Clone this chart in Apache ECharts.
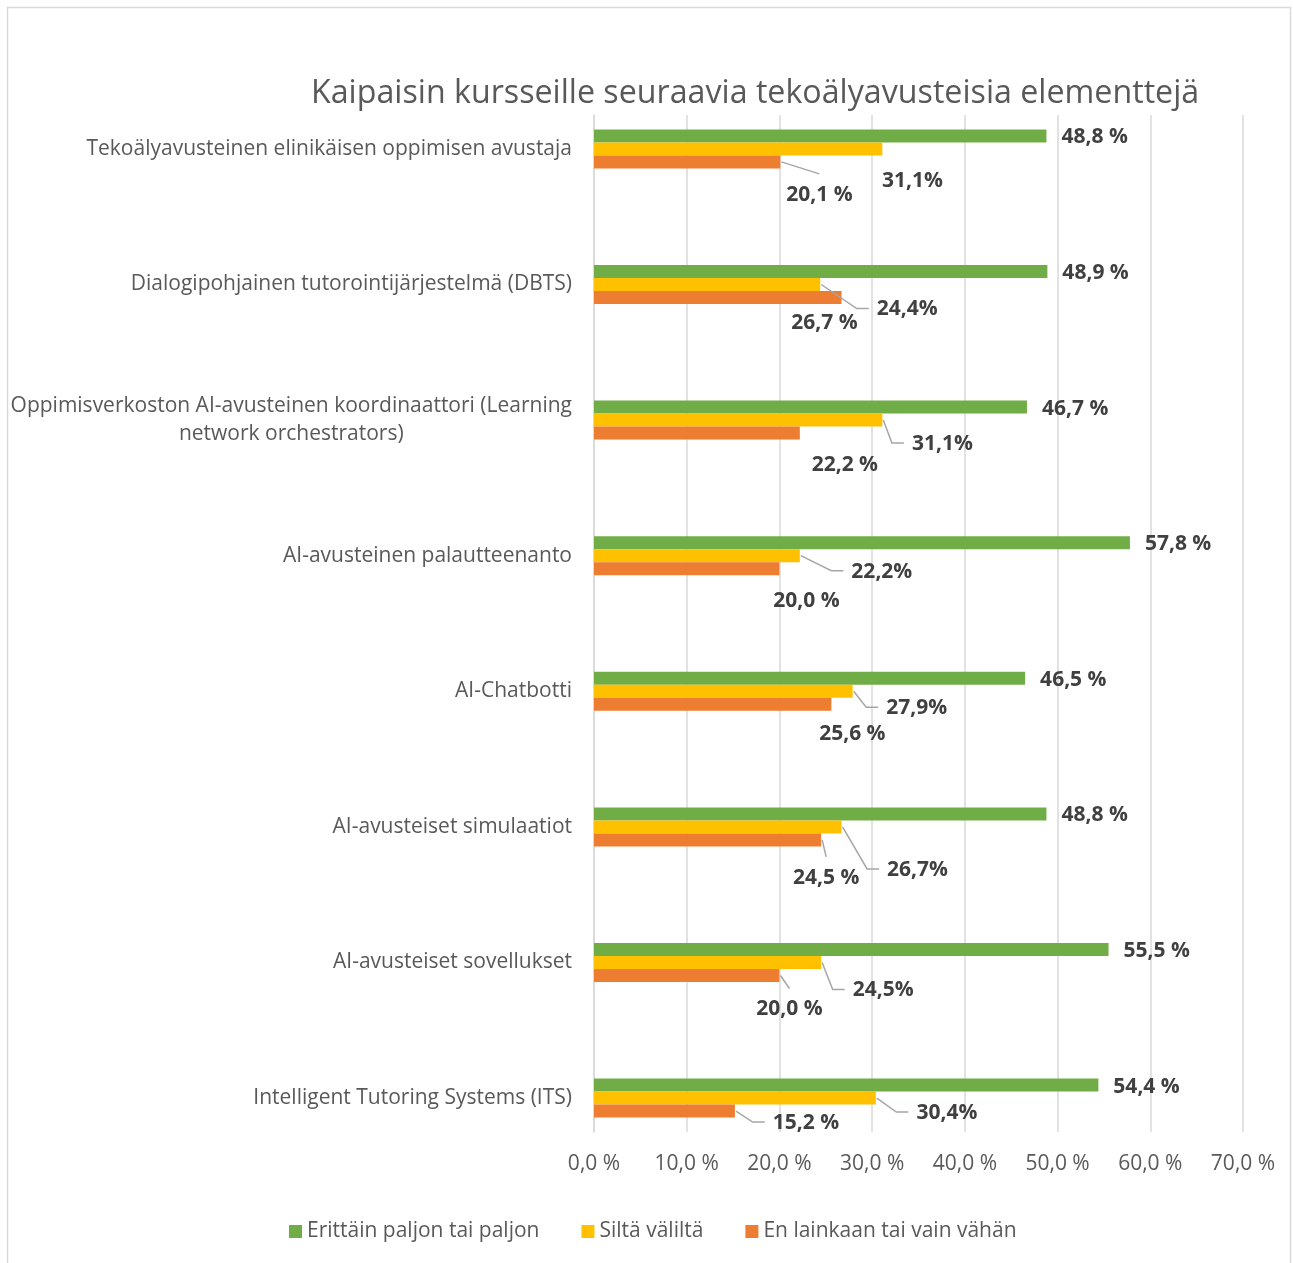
<!DOCTYPE html>
<html>
<head>
<meta charset="utf-8">
<script src="https://cdn.jsdelivr.net/npm/echarts@6/dist/echarts.min.js"></script>
<style>
  html, body { margin: 0; padding: 0; background: #fff; }
  #chart { width: 1293px; height: 1263px; }
</style>
</head>
<body>
<div id="chart"></div>
<script>
// Survey: which AI-assisted elements respondents would like on courses
const chartTitle = 'Kaipaisin kursseille seuraavia tekoälyavusteisia elementtejä';

const categories = [
  'Tekoälyavusteinen elinikäisen oppimisen avustaja',
  'Dialogipohjainen tutorointijärjestelmä (DBTS)',
  'Oppimisverkoston AI-avusteinen koordinaattori (Learning\nnetwork orchestrators)',
  'AI-avusteinen palautteenanto',
  'AI-Chatbotti',
  'AI-avusteiset simulaatiot',
  'AI-avusteiset sovellukset',
  'Intelligent Tutoring Systems (ITS)'
];

const seriesNames = ['Erittäin paljon tai paljon', 'Siltä väliltä', 'En lainkaan tai vain vähän'];

const paljon  = [48.8, 48.9, 46.7, 57.8, 46.5, 48.8, 55.5, 54.4];
const valilta = [31.1, 24.4, 31.1, 22.2, 27.9, 26.7, 24.5, 30.4];
const vahan   = [20.1, 26.7, 22.2, 20.0, 25.6, 24.5, 20.0, 15.2];

// Label placement relative to the end of its bar: [dx, dy] of the label centre
const valiltaLabelShift = [[30, 32], [87, 25], [60, 24], [82, 16], [64, 17], [76, 43], [62, 28], [71, 15]];
const vahanLabelShift   = [[39, 33], [-17, 26], [45, 32], [27, 32], [21, 30], [5, 38], [10, 34], [71, 12]];
// Leader line to the label: 'left' side, 'top' side, or none
const valiltaLeader = [null, 'left', 'left', 'left', 'left', 'left', 'left', 'left'];
const vahanLeader   = ['top', null, null, null, null, 'top', 'top', 'left'];

const colors = ['#70AD47', '#FFC000', '#ED7D31'];
const FONT = 'Open Sans';
const BAR_W = 13;
const LABEL_SIZE = 21;

// Each category row is followed by an empty spacer row
const rows = [];
categories.forEach((c, i) => {
  if (i > 0) rows.push(' '.repeat(i));
  rows.push(c);
});
const rowOf = k => k * 2;

function spread(values) {
  const out = [];
  values.forEach((v, i) => {
    if (i > 0) out.push('-');
    out.push(v);
  });
  return out;
}

const fmt = (v, sep) => v.toFixed(1).replace('.', ',') + sep + '%';

// Text width of a data label, for attaching leader lines to its edge
const measureCtx = document.createElement('canvas').getContext('2d');
function labelWidth(text) {
  measureCtx.font = 'bold ' + LABEL_SIZE + 'px "' + FONT + '"';
  return measureCtx.measureText(text).width;
}

function shiftedLayout(shifts) {
  return function (p) {
    const s = shifts[Math.round(p.dataIndex / 2)];
    return {
      x: p.rect.x + p.rect.width + s[0],
      y: p.rect.y + p.rect.height / 2 + s[1],
      align: 'center',
      verticalAlign: 'middle'
    };
  };
}

const labelText = {
  fontFamily: FONT,
  fontSize: LABEL_SIZE,
  fontWeight: 'bold',
  color: '#404040'
};

// Leader line records: value, row, bar slot (0 = middle bar, 1 = lower bar), category index
const leaderRows = [];
valilta.forEach((v, k) => { if (valiltaLeader[k]) leaderRows.push([v, rowOf(k), 0, k]); });
vahan.forEach((v, k) => { if (vahanLeader[k]) leaderRows.push([v, rowOf(k), 1, k]); });

function renderLeader(params, api) {
  const v = api.value(0);
  const row = api.value(1);
  const slot = api.value(2);
  const k = api.value(3);
  const values = slot === 0 ? valilta : vahan;
  const shifts = slot === 0 ? valiltaLabelShift : vahanLabelShift;
  const mode = slot === 0 ? valiltaLeader[k] : vahanLeader[k];
  const sep = slot === 0 ? '' : ' ';
  const c = api.coord([v, row]);
  const start = [c[0] + 1, c[1] + slot * BAR_W];
  const cx = start[0] - 1 + shifts[k][0];
  const cy = start[1] + shifts[k][1] - 1;
  let points;
  if (mode === 'left') {
    const left = cx - labelWidth(fmt(values[k], sep)) / 2;
    points = [start, [left - 20, cy], [left - 8, cy]];
  } else {
    points = [start, [cx, cy - 20]];
  }
  return {
    type: 'polyline',
    silent: true,
    shape: { points },
    style: { fill: null, stroke: '#A6A6A6', lineWidth: 1.5 }
  };
}

const chart = echarts.init(document.getElementById('chart'), null, { renderer: 'canvas' });

chart.setOption({
  animation: false,
  backgroundColor: '#ffffff',
  color: colors,
  title: {
    text: chartTitle,
    left: 306,
    top: 73,
    textStyle: { fontFamily: FONT, fontSize: 32.2, fontWeight: 'normal', color: '#595959' }
  },
  legend: {
    top: 1221,
    left: 289,
    padding: 0,
    icon: 'rect',
    itemWidth: 13,
    itemHeight: 13,
    itemGap: 42,
    data: seriesNames,
    textStyle: { fontFamily: FONT, fontSize: 21, color: '#595959' }
  },
  grid: { left: 594, right: 50, top: 115, bottom: 131 },
  xAxis: {
    type: 'value',
    min: 0,
    max: 70,
    interval: 10,
    axisLine: { show: false },
    axisTick: { show: false },
    splitLine: { lineStyle: { color: '#D9D9D9', width: 1.5 } },
    axisLabel: {
      margin: 22,
      fontFamily: FONT,
      fontSize: 21,
      color: '#595959',
      formatter: v => fmt(v, ' ')
    }
  },
  yAxis: {
    type: 'category',
    inverse: true,
    data: rows,
    axisLine: { lineStyle: { color: '#D9D9D9', width: 1.5 } },
    axisTick: { length: 6, lineStyle: { color: '#D9D9D9', width: 1.5 } },
    axisLabel: {
      margin: 22,
      fontFamily: FONT,
      fontSize: 21,
      color: '#595959',
      lineHeight: 28,
      formatter: v => v.indexOf('\n') < 0 ? v : v.split('\n').map(l => '{c|' + l + '}').join('\n'),
      rich: {
        c: { align: 'center', fontFamily: FONT, fontSize: 21, color: '#595959', lineHeight: 28 }
      }
    }
  },
  series: [
    {
      name: seriesNames[0],
      type: 'bar',
      barWidth: BAR_W,
      barGap: '0%',
      data: spread(paljon),
      label: {
        show: true,
        position: 'right',
        distance: 15,
        offset: [0, 1.5],
        formatter: p => fmt(p.value, ' '),
        ...labelText
      }
    },
    {
      name: seriesNames[1],
      type: 'bar',
      barWidth: BAR_W,
      barGap: '0%',
      data: spread(valilta),
      label: {
        show: true,
        position: 'right',
        formatter: p => fmt(p.value, ''),
        ...labelText
      },
      labelLayout: shiftedLayout(valiltaLabelShift)
    },
    {
      name: seriesNames[2],
      type: 'bar',
      barWidth: BAR_W,
      barGap: '0%',
      data: spread(vahan),
      label: {
        show: true,
        position: 'right',
        formatter: p => fmt(p.value, ' '),
        ...labelText
      },
      labelLayout: shiftedLayout(vahanLabelShift)
    },
    {
      name: 'leaders',
      type: 'custom',
      silent: true,
      z: 3,
      clip: false,
      data: leaderRows,
      encode: { x: 0, y: 1 },
      renderItem: renderLeader,
      tooltip: { show: false }
    }
  ],
  graphic: [{
    type: 'rect',
    silent: true,
    shape: { x: 7.5, y: 7.5, width: 1283, height: 1262 },
    style: { fill: 'none', stroke: '#D9D9D9', lineWidth: 1.5 }
  }]
});
</script>
</body>
</html>
